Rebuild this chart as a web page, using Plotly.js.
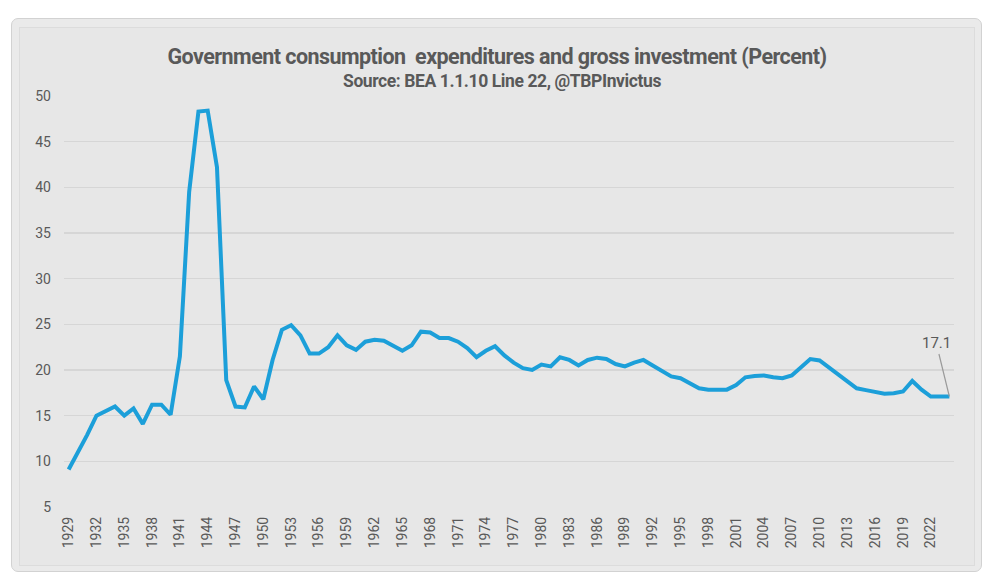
<!DOCTYPE html>
<html>
<head>
<meta charset="utf-8">
<script src="https://cdn.plot.ly/plotly-3.0.1.min.js"></script>
<style>
  html, body { margin: 0; padding: 0; background: #ffffff; }
  #wrap { position: relative; width: 1000px; height: 583px; }
  #card {
    position: absolute; left: 11px; top: 18px; width: 971px; height: 554px;
    box-sizing: border-box; border: 1.5px solid #d2d2d2; border-radius: 7px;
    background: #eaeaea;
  }
  #inner {
    position: absolute; left: 19px; top: 27px; width: 956px; height: 539px;
    box-sizing: border-box; border: 1.5px solid #dcdcdc; background: #e7e7e7;
  }
  #chart { position: absolute; left: 0; top: 0; width: 1000px; height: 583px; }
  /* tighter tracking for the heading lines */
  #chart .gtitle { letter-spacing: -0.55px; }
  #chart .annotation[data-index="1"] text { letter-spacing: -0.4px; }
</style>
</head>
<body>
<div id="wrap">
  <div id="card"></div>
  <div id="inner"></div>
  <div id="chart"></div>
</div>
<script>
// Government consumption expenditures and gross investment, percent of GDP
const years = [];
for (let y = 1929; y <= 2024; y++) years.push(y);

const values = [
  9.1, 10.9, 12.9, 15.0, 15.5, 16.0, 15.0, 15.8, 14.1, 16.2,   // 1929-1938
  16.2, 15.1, 21.5, 39.5, 48.3, 48.4, 42.2, 18.9, 16.0, 15.9,  // 1939-1948
  18.2, 16.8, 21.1, 24.4, 24.9, 23.8, 21.8, 21.8, 22.5, 23.8,  // 1949-1958
  22.7, 22.2, 23.1, 23.3, 23.2, 22.6, 22.1, 22.7, 24.2, 24.1,  // 1959-1968
  23.5, 23.5, 23.1, 22.4, 21.4, 22.1, 22.6, 21.6, 20.8, 20.2,  // 1969-1978
  20.0, 20.6, 20.4, 21.4, 21.1, 20.5, 21.1, 21.35, 21.2, 20.65, // 1979-1988
  20.4, 20.8, 21.1, 20.5, 19.9, 19.3, 19.1, 18.6, 18.0, 17.85,  // 1989-1998
  17.9, 17.85, 18.35, 19.2, 19.35, 19.4, 19.2, 19.1, 19.4, 20.3, // 1999-2008
  21.2, 21.05, 20.3, 19.5, 18.7, 18.0, 17.8, 17.65, 17.4, 17.45, // 2009-2018
  17.65, 18.8, 17.85, 17.1, 17.05, 17.1                          // 2019-2024
];

const xTickVals = years.filter(y => (y - 1929) % 3 === 0);
const xTickText = xTickVals.map(String);
const yTickVals = [5, 10, 15, 20, 25, 30, 35, 40, 45, 50];

const titleText = 'Government consumption  expenditures and gross investment (Percent)';
const subtitleText = 'Source: BEA 1.1.10 Line 22, @TBPInvictus';

const lastYear = years[years.length - 1];
const lastValue = values[values.length - 1];

const textColor = '#595959';
const tickFont = { family: 'Roboto, Liberation Sans, sans-serif', size: 14, color: textColor };

const trace = {
  x: years,
  y: values,
  type: 'scatter',
  mode: 'lines',
  line: { color: '#1c9fd9', width: 4, shape: 'linear' },
  hoverinfo: 'x+y'
};

const layout = {
  width: 1000,
  height: 583,
  paper_bgcolor: 'rgba(0,0,0,0)',
  plot_bgcolor: 'rgba(0,0,0,0)',
  margin: { l: 64, r: 46, t: 96, b: 76 },
  showlegend: false,
  title: {
    text: '<b>' + titleText + '</b>',
    font: { family: 'Roboto, sans-serif', size: 21.5, color: textColor },
    x: 0.497, xanchor: 'center',
    xref: 'container', yref: 'container',
    y: 1 - 56 / 583, yanchor: 'middle'
  },
  xaxis: {
    range: [1928.5, 2024.5],
    tickmode: 'array',
    tickvals: xTickVals,
    ticktext: xTickText,
    tickangle: -90,
    tickfont: tickFont,
    showgrid: false,
    zeroline: false,
    showline: false,
    ticks: '',
    ticklabelstandoff: 6
  },
  yaxis: {
    range: [5, 50],
    tickmode: 'array',
    tickvals: yTickVals,
    tickfont: tickFont,
    showgrid: true,
    gridcolor: '#d6d6d6',
    gridwidth: 1.3,
    zeroline: false,
    showline: false,
    ticks: '',
    ticklabelstandoff: 12
  },
  annotations: [{
    x: lastYear,
    y: lastValue,
    xref: 'x',
    yref: 'y',
    text: lastValue.toFixed(1),
    font: { family: 'Roboto, Liberation Sans, sans-serif', size: 15, color: textColor },
    showarrow: true,
    arrowhead: 0,
    arrowwidth: 1.2,
    arrowcolor: '#9a9a9a',
    ax: -13,
    ay: -53,
    standoff: 0
  }, {
    xref: 'paper',
    yref: 'paper',
    x: 0.4925,
    y: 1 + 15 / 411,
    xanchor: 'center',
    yanchor: 'middle',
    text: '<b>' + subtitleText + '</b>',
    font: { family: 'Roboto, sans-serif', size: 17.5, color: textColor },
    showarrow: false
  }]
};

Plotly.newPlot('chart', [trace], layout, { displayModeBar: false, staticPlot: true });
</script>
</body>
</html>
